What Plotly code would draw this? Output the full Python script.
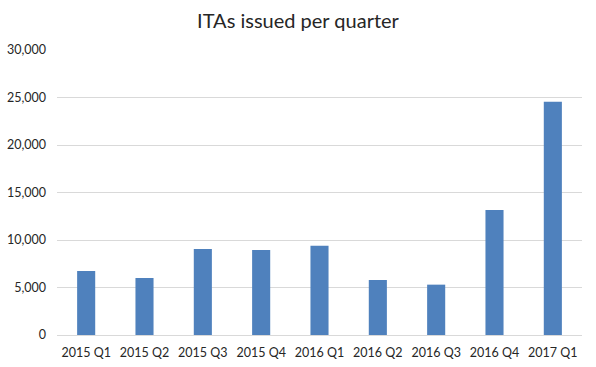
import plotly.graph_objects as go

quarters = ["2015 Q1", "2015 Q2", "2015 Q3", "2015 Q4", "2016 Q1",
            "2016 Q2", "2016 Q3", "2016 Q4", "2017 Q1"]
itas = [6750, 6000, 9050, 8950, 9400, 5800, 5300, 13170, 24550]
y_ticks = [0, 5000, 10000, 15000, 20000, 25000, 30000]
y_tick_labels = ["0", "5,000", "10,000", "15,000", "20,000", "25,000", "30,000"]

fig = go.Figure(go.Bar(x=quarters, y=itas, marker=dict(color="#4F81BD", line=dict(width=0))))

fig.update_layout(
    width=596, height=367,
    margin=dict(l=57, r=14, t=50, b=32, autoexpand=False),
    paper_bgcolor="white", plot_bgcolor="white",
    bargap=0.69,
    font=dict(family="Lato, Open Sans, sans-serif", size=12, color="#404040"),
    title=dict(text="ITAs issued per quarter", x=0.5, xanchor="center", y=0.943, yanchor="middle",
               font=dict(size=20, color="#262626")),
    showlegend=False,
)
fig.update_xaxes(showgrid=False, showline=True, linecolor="#D9D9D9", linewidth=1,
                 ticks="", ticklabelstandoff=6, tickfont=dict(size=12.5, color="#262626"))
fig.update_yaxes(range=[0, 30000], tickvals=y_ticks, ticktext=y_tick_labels,
                 showgrid=True, gridcolor="#D9D9D9", gridwidth=1, zeroline=False,
                 showline=False, ticks="", ticklabelstandoff=10,
                 tickfont=dict(size=12.5, color="#262626"))

fig.write_html("out.html", config={"displayModeBar": False},
               post_script="document.body.style.margin='0';")
